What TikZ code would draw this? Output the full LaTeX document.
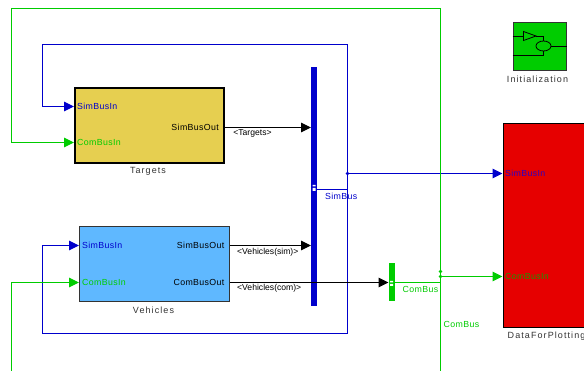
\documentclass[tikz,border=0pt]{standalone}
\usepackage{fontspec}
\setmainfont{Liberation Sans}
\usepackage{xcolor}
\usetikzlibrary{arrows.meta}
\definecolor{SimBlue}{HTML}{0000CC}
\definecolor{ComGreen}{HTML}{00CC00}
\definecolor{TargetFill}{HTML}{E6CF50}
\definecolor{VehicleFill}{HTML}{5FB8FF}
\definecolor{PlotRed}{HTML}{E60000}
\definecolor{PlotSim}{HTML}{3000C0}
\definecolor{PlotCom}{HTML}{1E9600}
\newfontfamily\PortFace[LetterSpace=4]{Liberation Sans}
\newfontfamily\NameFace[LetterSpace=12]{Liberation Sans}
\newcommand{\PortFont}{\PortFace\fontsize{8.8}{10}\selectfont}
\newcommand{\SigFont}{\fontsize{8.6}{10}\selectfont}
\newcommand{\NameFont}{\NameFace\fontsize{9}{10}\selectfont}
\tikzset{
  sig/.style={line width=1pt,-{Triangle[length=10pt,width=9.5pt]}},
  wire/.style={line width=1pt},
  blockbox/.style={draw=black,inner sep=0pt,anchor=north west},
  busbar/.style={inner sep=0pt,anchor=north west,minimum width=6pt},
  portlabel/.style={font=\PortFont,inner sep=0pt,anchor=west},
  outlabel/.style={font=\PortFont,inner sep=0pt,anchor=east},
  siglabel/.style={font=\SigFont,inner sep=0pt},
  buslabel/.style={font=\PortFont,inner sep=0pt,anchor=west},
  blockname/.style={font=\NameFont,inner sep=0pt,text=black!80},
  junction/.style={circle,inner sep=0pt,minimum size=3.6pt}
}

\begin{document}
\begin{tikzpicture}[x=1pt,y=-1pt]
\clip (0,0) rectangle (584,371);
\fill[white] (0,0) rectangle (584,371);
% blocks
\node[blockbox,fill=TargetFill,line width=2pt,minimum width=149pt,minimum height=75pt] (Targets) at (74,87) {};
\node[blockbox,fill=VehicleFill,line width=1pt,draw=black!80,minimum width=150pt,minimum height=75pt] (Vehicles) at (79,226.5) {};
\node[blockbox,fill=PlotRed,line width=1pt,minimum width=100pt,minimum height=204.5pt] (Plotting) at (502.5,123) {};
\node[blockbox,fill=ComGreen,line width=1pt,draw=black!80,minimum width=53pt,minimum height=48.5pt] (Init) at (512.5,22) {};
\node[busbar,fill=SimBlue,minimum height=239pt] (SimBar) at (311,67) {};
\node[busbar,fill=ComGreen,minimum height=38pt] (ComBar) at (388.5,263) {};
% port texts
\node[portlabel,text=SimBlue] (TargetsSimIn) at (77,106.5) {SimBusIn};
\node[portlabel,text=ComGreen] (TargetsComIn) at (77,142.5) {ComBusIn};
\node[outlabel] (TargetsSimOut) at (219,127.5) {SimBusOut};
\node[portlabel,text=SimBlue] (VehiclesSimIn) at (82,245.5) {SimBusIn};
\node[portlabel,text=ComGreen] (VehiclesComIn) at (82,282.5) {ComBusIn};
\node[outlabel] (VehiclesSimOut) at (224.5,245.5) {SimBusOut};
\node[outlabel] (VehiclesComOut) at (224.5,282.5) {ComBusOut};
\node[portlabel,text=PlotSim] (PlottingSimIn) at (505,173.5) {SimBusIn};
\node[portlabel,text=PlotCom] (PlottingComIn) at (505,276.5) {ComBusIn};
% block names
\node[blockname] (TargetsName) at (148,171) {Targets};
\node[blockname] (VehiclesName) at (153.5,310.5) {Vehicles};
\node[blockname,anchor=west] (PlottingName) at (507.5,336) {DataForPlotting};
\node[blockname] (InitName) at (537.5,79) {Initialization};
% free corners of the feedback lines
\coordinate (SimTop) at (42.5,44.5);
\coordinate (SimRight) at (347.5,44.5);
\coordinate (SimLow) at (347.5,333.5);
\coordinate (SimLeft) at (42.5,333.5);
\coordinate (ComTop) at (11.5,8.5);
\coordinate (ComRight) at (440.5,8.5);
\coordinate (ComFoot) at (11.5,372);
\coordinate (ComEnd) at (440.5,372);
\node[junction,fill=SimBlue] (SimDot) at (347.5,173.5) {};
\node[junction,fill=ComGreen] (ComDotA) at (440.5,271.5) {};
\node[junction,fill=ComGreen] (ComDotB) at (440.5,276.5) {};
\coordinate (SimTap) at (347.5,189.5);
\coordinate (ComTap) at (440.5,282.5);
% blue lines
\draw[wire,SimBlue] (SimBar.east |- SimTap) -- (SimTap);
\draw[sig,SimBlue] (SimDot.center) -- (Plotting.west |- SimDot);
\draw[sig,SimBlue] (SimLow) -- (SimRight) -- (SimTop) -- (SimTop |- TargetsSimIn) -- (Targets.west |- TargetsSimIn);
\draw[sig,SimBlue] (SimLow) -- (SimLeft) -- (SimLeft |- VehiclesSimIn) -- (Vehicles.west |- VehiclesSimIn);
% green lines
\draw[sig,ComGreen] (ComEnd) -- (ComRight) -- (ComTop) -- (ComTop |- TargetsComIn) -- (Targets.west |- TargetsComIn);
\draw[sig,ComGreen] (ComFoot) -- (ComFoot |- VehiclesComIn) -- (Vehicles.west |- VehiclesComIn);
\draw[wire,ComGreen] (ComBar.east |- ComTap) -- (ComTap);
\draw[sig,ComGreen] (ComDotB.center) -- (Plotting.west |- ComDotB);
% black lines
\draw[sig,black] (Targets.east |- TargetsSimOut) -- (SimBar.west |- TargetsSimOut);
\draw[sig,black] (Vehicles.east |- VehiclesSimOut) -- (SimBar.west |- VehiclesSimOut);
\draw[sig,black] (Vehicles.east |- VehiclesComOut) -- (ComBar.west |- VehiclesComOut);
% signal texts
\node[siglabel] (TargetsSig) at (252.5,133.5) {<Targets>};
\node[siglabel,anchor=west] (VehiclesSimSig) at (237,252) {<Vehicles(sim)>};
\node[siglabel,anchor=west] (VehiclesComSig) at (237,288) {<Vehicles(com)>};
\node[buslabel,text=SimBlue] (SimBusSig) at (325,196) {SimBus};
\node[buslabel,text=ComGreen] (ComBusSig) at (402.5,289) {ComBus};
\node[buslabel,text=ComGreen] (ComBusTap) at (443.5,324.5) {ComBus};
% small marks on the bars
\fill[white] (312.5,185) rectangle (315.5,186.5) (312.5,188) rectangle (315.5,191);
\fill[white] (390,281) rectangle (393,282.5) (390,284) rectangle (393,286);
% inside the init block
\draw[line width=.8pt] (Init.west |- 0,36) -- (523.5,36);
\draw[line width=.8pt] (523.5,31.5) -- (536,36) -- (523.5,40.5) -- cycle;
\draw[line width=.8pt] (536,36) -- (543.5,36) -- (543.5,41);
\draw[line width=.8pt] (543.5,46) ellipse (7.5 and 5);
\draw[line width=.8pt] (551,46) -- (Init.east |- 0,46);
\draw[line width=.8pt] (Init.west |- 0,55) -- (543.5,55) -- (543.5,51);
\end{tikzpicture}
\end{document}
